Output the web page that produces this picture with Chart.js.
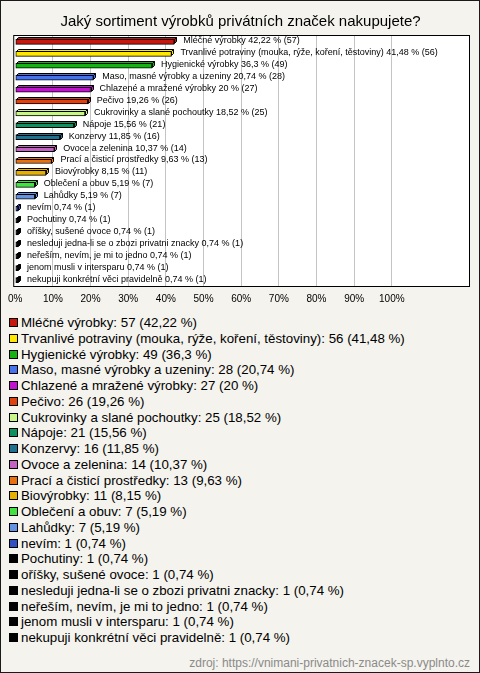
<!DOCTYPE html>
<html lang="cs">
<head>
<meta charset="utf-8">
<script src="https://cdn.jsdelivr.net/npm/chart.js@4.4.1/dist/chart.umd.min.js"></script>
<style>
	body { margin: 0; background: #fff; font-family: "Liberation Sans", Arial, sans-serif; }
	#wrap { position: relative; width: 480px; height: 673px; box-sizing: border-box; border: 1px solid #1a1a1a; background: #f4f3ed; }
	#chartBox { position: absolute; left: 0; top: 0; width: 478px; height: 312px; }
	#legend { position: absolute; left: 8px; top: 314px; font-size: 13.3px; line-height: 15.75px; color: #000; white-space: nowrap; }
	#legend .box { display: inline-block; width: 7px; height: 7px; border: 1px solid #000; margin-right: 3px; vertical-align: 0px; }
	#source { position: absolute; right: 9px; top: 655px; font-size: 12px; line-height: 14px; color: #8a8a8a; }
</style>
</head>
<body>
<div id="wrap">
	<div id="chartBox"><canvas id="chart"></canvas></div>
	<div id="legend"></div>
	<div id="source">zdroj: https://vnimani-privatnich-znacek-sp.vyplnto.cz</div>
</div>
<script>
const title = 'Jaký sortiment výrobků privátních značek nakupujete?';

const categories = [
	'Mléčné výrobky',
	'Trvanlivé potraviny (mouka, rýže, koření, těstoviny)',
	'Hygienické výrobky',
	'Maso, masné výrobky a uzeniny',
	'Chlazené a mražené výrobky',
	'Pečivo',
	'Cukrovinky a slané pochoutky',
	'Nápoje',
	'Konzervy',
	'Ovoce a zelenina',
	'Prací a čisticí prostředky',
	'Biovýrobky',
	'Oblečení a obuv',
	'Lahůdky',
	'nevím',
	'Pochutiny',
	'oříšky, sušené ovoce',
	'nesleduji jedna-li se o zbozi privatni znacky',
	'neřeším, nevím, je mi to jedno',
	'jenom musli v intersparu',
	'nekupuji konkrétní věci pravidelně'
];

const counts = [57, 56, 49, 28, 27, 26, 25, 21, 16, 14, 13, 11, 7, 7, 1, 1, 1, 1, 1, 1, 1];

const percents = [42.22, 41.48, 36.3, 20.74, 20, 19.26, 18.52, 15.56, 11.85, 10.37, 9.63, 8.15, 5.19, 5.19, 0.74, 0.74, 0.74, 0.74, 0.74, 0.74, 0.74];

const colors = [
	'#c8170f', '#ffe800', '#12b312', '#4772ee', '#c012cf', '#e0420f', '#c8f787',
	'#0f9060', '#1f7190', '#c262c2', '#e8700f', '#e6b000', '#3fe23f', '#6592e0',
	'#3150c2', '#000000', '#000000', '#000000', '#000000', '#000000', '#000000'
];

const tickValues = [0, 10, 20, 30, 40, 50, 60, 70, 80, 90, 100];

const fmt = v => String(v).replace('.', ',');

// legenda pod grafem
const legendEl = document.getElementById('legend');
categories.forEach((c, i) => {
	const row = document.createElement('div');
	const box = document.createElement('span');
	box.className = 'box';
	box.style.background = colors[i];
	row.appendChild(box);
	row.appendChild(document.createTextNode(c + ': ' + counts[i] + ' (' + fmt(percents[i]) + ' %)'));
	legendEl.appendChild(row);
});

// bílé pozadí a rámeček plochy grafu
const plotFrame = {
	id: 'plotFrame',
	beforeDraw(chart) {
		const a = chart.chartArea;
		const ctx = chart.ctx;
		ctx.save();
		ctx.fillStyle = '#fff';
		ctx.fillRect(a.left - 1, a.top, a.right - a.left + 1, a.bottom - a.top);
		ctx.restore();
	},
	afterDraw(chart) {
		const a = chart.chartArea;
		const ctx = chart.ctx;
		ctx.save();
		ctx.strokeStyle = '#000';
		ctx.lineWidth = 1;
		ctx.strokeRect(a.left - 1.5, a.top - 0.5, a.right - a.left + 2, a.bottom - a.top + 1);
		ctx.restore();
	}
};

// 3D efekt sloupců + popisky
const bars3d = {
	id: 'bars3d',
	afterDatasetsDraw(chart) {
		const ctx = chart.ctx;
		const meta = chart.getDatasetMeta(0);
		const d = 2;
		ctx.save();
		ctx.lineWidth = 1;
		ctx.strokeStyle = '#000';
		meta.data.forEach((el, i) => {
			const p = el.getProps(['x', 'y', 'base', 'height'], true);
			const top = Math.round(p.y - p.height / 2) + 0.5;
			const bottom = top + p.height - 1;
			const x = Math.round(p.x) + 0.5;
			const base = Math.round(p.base) + 0.5;
			ctx.fillStyle = colors[i];
			ctx.beginPath();
			ctx.moveTo(base, top);
			ctx.lineTo(base + d, top - d);
			ctx.lineTo(x + d, top - d);
			ctx.lineTo(x, top);
			ctx.closePath();
			ctx.fill();
			ctx.stroke();
			ctx.beginPath();
			ctx.moveTo(x, top);
			ctx.lineTo(x + d, top - d);
			ctx.lineTo(x + d, bottom - d);
			ctx.lineTo(x, bottom);
			ctx.closePath();
			ctx.fill();
			ctx.stroke();

			ctx.fillStyle = '#000';
			ctx.font = '9px "Liberation Sans", Arial, sans-serif';
			ctx.textBaseline = 'middle';
			ctx.fillText(categories[i] + ' ' + fmt(percents[i]) + ' % (' + counts[i] + ')', p.x + 9, p.y - 1);
		});
		ctx.restore();
	}
};

new Chart(document.getElementById('chart').getContext('2d'), {
	type: 'bar',
	data: {
		labels: categories,
		datasets: [{
			data: percents,
			backgroundColor: colors,
			borderColor: '#000',
			borderWidth: 1,
			borderSkipped: false,
			barThickness: 5
		}]
	},
	options: {
		indexAxis: 'y',
		responsive: true,
		maintainAspectRatio: false,
		animation: false,
		layout: { padding: { left: 11, right: 10, top: 0, bottom: 1 } },
		plugins: {
			legend: { display: false },
			tooltip: { enabled: false },
			title: {
				display: true,
				text: title,
				color: '#000',
				font: { family: '"Liberation Sans", Arial, sans-serif', size: 15, weight: 'normal' },
				padding: { top: 12, bottom: 5 }
			}
		},
		scales: {
			x: {
				min: 0,
				max: 120.5,
				afterBuildTicks: axis => {
					axis.ticks = tickValues.map(v => ({ value: v }));
				},
				border: { display: false },
				grid: {
					drawTicks: false,
					color: c => (c.tick && c.tick.value > 0) ? '#c4c4c4' : 'rgba(0,0,0,0)'
				},
				ticks: {
					padding: 7,
					color: '#000',
					autoSkip: false,
					maxRotation: 0,
					font: { family: '"Liberation Sans", Arial, sans-serif', size: 10 },
					callback: v => v + '%'
				}
			},
			y: {
				display: false
			}
		}
	},
	plugins: [plotFrame, bars3d]
});
</script>
</body>
</html>
